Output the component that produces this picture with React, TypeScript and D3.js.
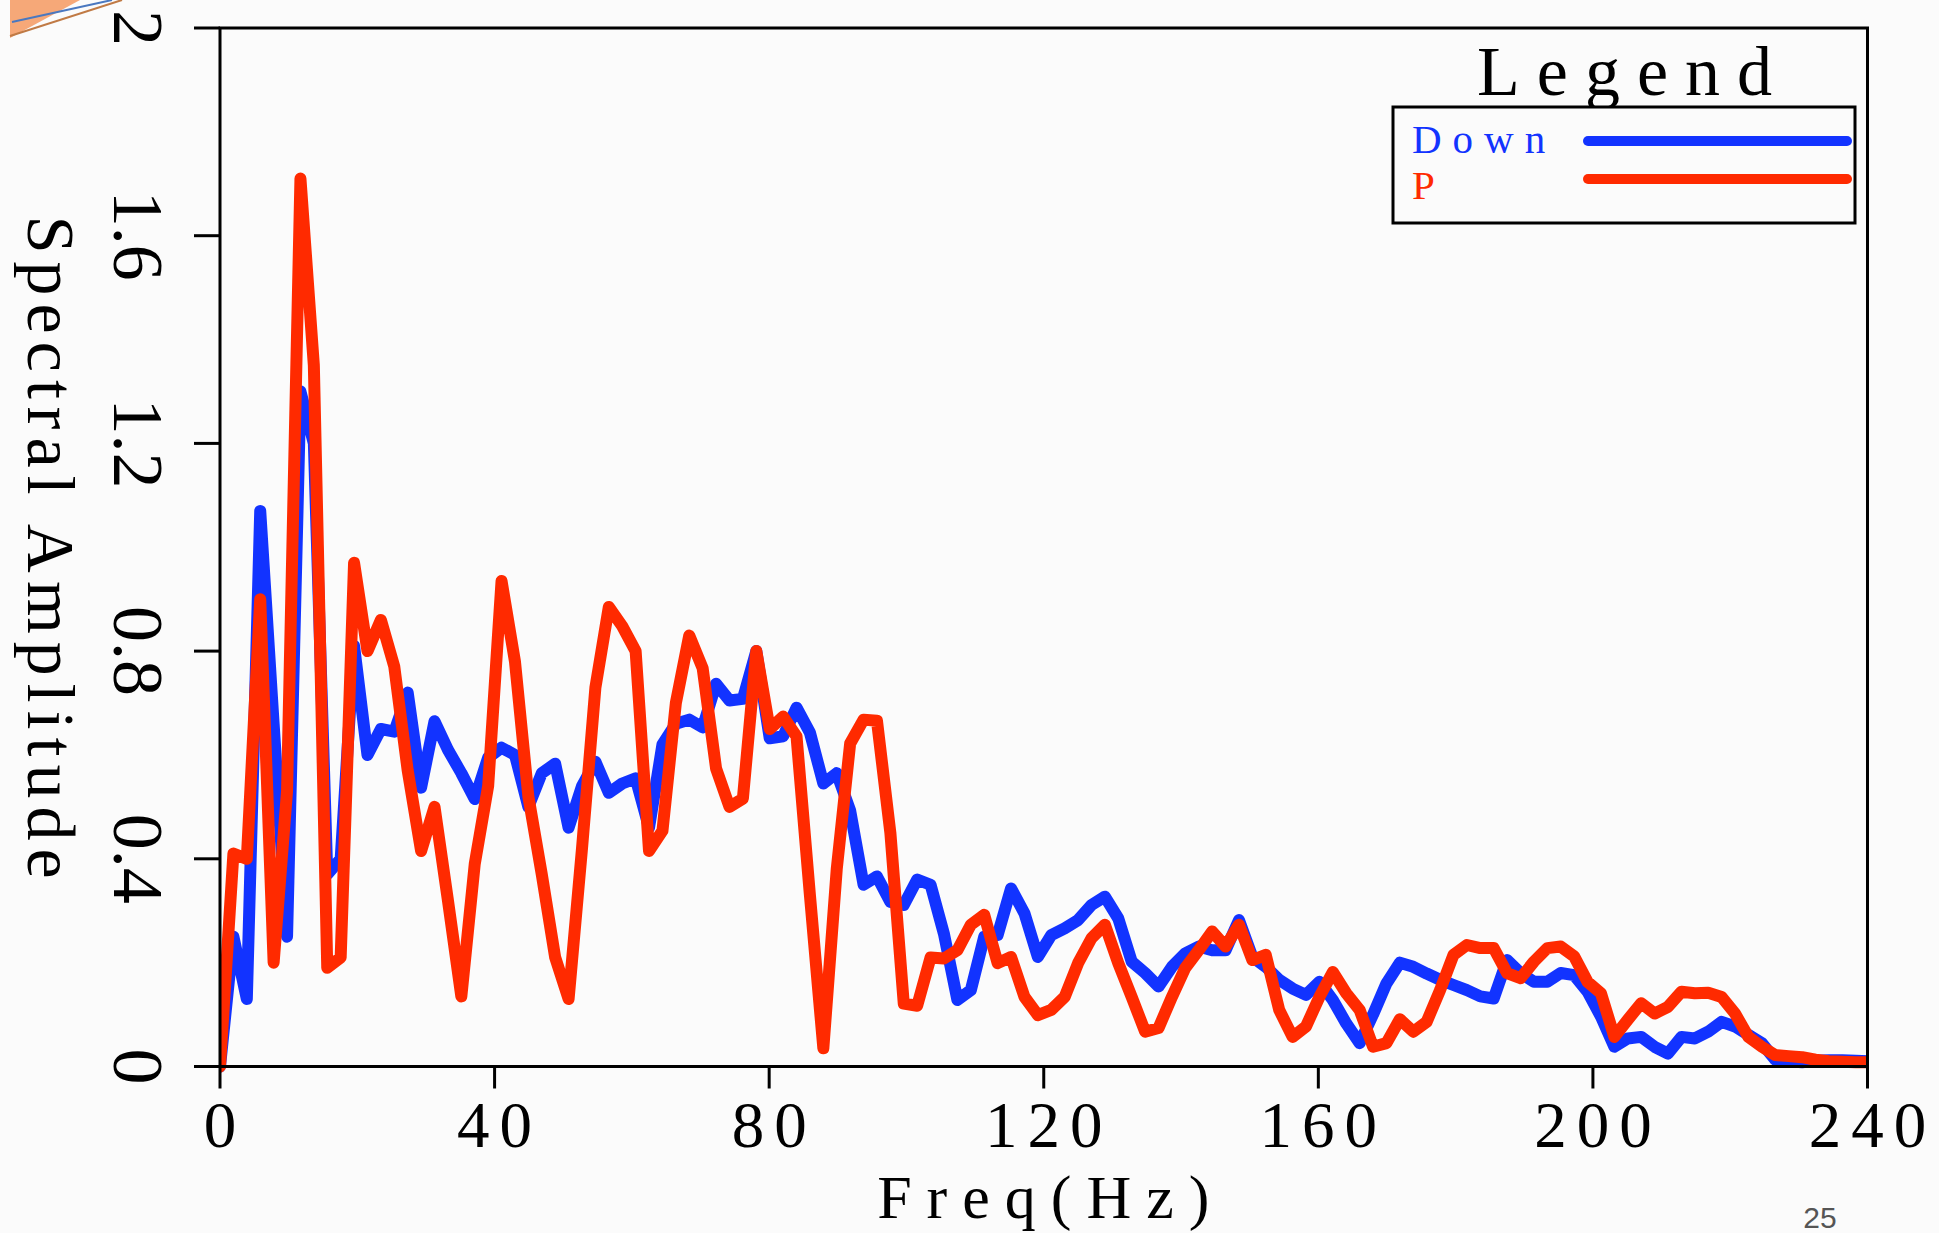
import React, { useRef, useEffect } from "react";
import * as d3 from "d3";

// spectrum bin width (Hz) - one value per FFT bin
const binHz = 1.953125;

// "Down" component spectral amplitude, per bin
const downAmp = [
  0, 0.25, 0.13, 1.07, 0.66, 0.25, 1.3, 1.2, 0.37, 0.4,
  0.81, 0.6, 0.65, 0.645, 0.72, 0.537, 0.665, 0.61, 0.565, 0.515,
  0.595, 0.614, 0.6, 0.5, 0.565, 0.583, 0.46, 0.54, 0.587, 0.527,
  0.545, 0.555, 0.46, 0.62, 0.66, 0.668, 0.653, 0.737, 0.705, 0.708,
  0.8, 0.632, 0.636, 0.691, 0.643, 0.545, 0.565, 0.493, 0.35, 0.366,
  0.317, 0.311, 0.36, 0.35, 0.255, 0.128, 0.147, 0.25, 0.253, 0.343,
  0.295, 0.211, 0.253, 0.266, 0.282, 0.311, 0.327, 0.285, 0.202, 0.18,
  0.154, 0.192, 0.218, 0.231, 0.224, 0.224, 0.282, 0.211, 0.192, 0.167,
  0.15, 0.138, 0.163, 0.128, 0.083, 0.045, 0.1, 0.16, 0.2, 0.192,
  0.179, 0.167, 0.157, 0.147, 0.135, 0.131, 0.205, 0.18, 0.163, 0.163,
  0.18, 0.176, 0.144, 0.096, 0.038, 0.054, 0.057, 0.038, 0.025, 0.057,
  0.054, 0.067, 0.086, 0.077, 0.061, 0.045, 0.013, 0.01, 0.008, 0.011,
  0.012, 0.012, 0.011, 0.01,
];

// "P" component spectral amplitude, per bin
const pAmp = [
  0, 0.41, 0.4, 0.9, 0.2, 0.53, 1.71, 1.35, 0.19, 0.21,
  0.97, 0.8, 0.86, 0.77, 0.57, 0.415, 0.5, 0.32, 0.135, 0.39,
  0.54, 0.935, 0.78, 0.52, 0.37, 0.21, 0.13, 0.42, 0.73, 0.885,
  0.848, 0.8, 0.415, 0.454, 0.7, 0.83, 0.767, 0.574, 0.5, 0.516,
  0.8, 0.65, 0.674, 0.636, 0.33, 0.035, 0.38, 0.622, 0.668, 0.666,
  0.45, 0.121, 0.117, 0.21, 0.208, 0.224, 0.273, 0.292, 0.199, 0.211,
  0.134, 0.099, 0.109, 0.134, 0.199, 0.247, 0.273, 0.199, 0.134, 0.067,
  0.074, 0.134, 0.19, 0.224, 0.26, 0.231, 0.273, 0.205, 0.215, 0.109,
  0.057, 0.077, 0.134, 0.182, 0.141, 0.109, 0.038, 0.045, 0.091, 0.067,
  0.086, 0.147, 0.215, 0.234, 0.228, 0.228, 0.18, 0.17, 0.202, 0.228,
  0.231, 0.212, 0.163, 0.141, 0.057, 0.09, 0.122, 0.102, 0.115, 0.144,
  0.141, 0.142, 0.134, 0.102, 0.057, 0.038, 0.022, 0.02, 0.018, 0.013,
  0.01, 0.009, 0.008, 0.008,
];

const xTicks = [0, 40, 80, 120, 160, 200, 240];
const yTicks = [0, 0.4, 0.8, 1.2, 1.6, 2];
const yTickLabels = ["0", "0.4", "0.8", "1.2", "1.6", "2"];
const seriesNames = ["Down", "P"];
const seriesColors = ["#1233ff", "#ff2a00"];

const FONT = "'Liberation Serif', 'Times New Roman', serif";

function App() {
  const svgRef = useRef(null);

  const width = 1939,
    height = 1233;
  const margin = { top: 28, right: 71.5, bottom: 166.5, left: 220 };
  const plotW = width - margin.left - margin.right;
  const plotH = height - margin.top - margin.bottom;

  function renderChart() {
    const svg = d3.select(svgRef.current);
    svg.selectAll("*").remove();

    svg
      .append("rect")
      .attr("width", width)
      .attr("height", height)
      .attr("fill", "#fbfbfb");

    // bit of the slide graphic poking in at the top-left corner
    svg
      .append("path")
      .attr("d", "M10,0 L10,38 L80,0 Z")
      .attr("fill", "#f6a878");
    svg
      .append("line")
      .attr("x1", 12).attr("y1", 22).attr("x2", 112).attr("y2", 0)
      .attr("stroke", "#4a78c0").attr("stroke-width", 2);
    svg
      .append("line")
      .attr("x1", 10).attr("y1", 36).attr("x2", 122).attr("y2", 0)
      .attr("stroke", "#c07a45").attr("stroke-width", 2);

    const x = d3.scaleLinear().domain([0, 240]).range([0, plotW]);
    const y = d3.scaleLinear().domain([0, 2]).range([plotH, 0]);

    const g = svg
      .append("g")
      .attr("transform", "translate(" + margin.left + "," + margin.top + ")");

    g.append("clipPath")
      .attr("id", "plot-clip")
      .append("rect")
      .attr("x", 0)
      .attr("y", -40)
      .attr("width", plotW)
      .attr("height", plotH + 80);

    const line = d3
      .line()
      .x((d, i) => x(i * binHz))
      .y((d) => y(d));

    [downAmp, pAmp].forEach((series, si) => {
      g.append("path")
        .datum(series)
        .attr("clip-path", "url(#plot-clip)")
        .attr("d", line)
        .attr("fill", "none")
        .attr("stroke", seriesColors[si])
        .attr("stroke-width", 12)
        .attr("stroke-linejoin", "round")
        .attr("stroke-linecap", "round");
    });

    // frame
    g.append("rect")
      .attr("width", plotW)
      .attr("height", plotH)
      .attr("fill", "none")
      .attr("stroke", "black")
      .attr("stroke-width", 3);

    // ticks
    g.selectAll(".ytick")
      .data(yTicks)
      .join("line")
      .attr("x1", -26)
      .attr("x2", 0)
      .attr("y1", (d) => y(d))
      .attr("y2", (d) => y(d))
      .attr("stroke", "black")
      .attr("stroke-width", 3);

    g.selectAll(".xtick")
      .data(xTicks)
      .join("line")
      .attr("x1", (d) => x(d))
      .attr("x2", (d) => x(d))
      .attr("y1", plotH)
      .attr("y2", plotH + 22)
      .attr("stroke", "black")
      .attr("stroke-width", 3);

    // x tick labels
    g.selectAll(".xlabel")
      .data(xTicks)
      .join("text")
      .attr("x", (d) => x(d))
      .attr("y", plotH + 80)
      .attr("dx", 5)
      .attr("text-anchor", "middle")
      .attr("font-family", FONT)
      .attr("font-size", 65)
      .attr("letter-spacing", 10)
      .attr("fill", "black")
      .text((d) => d);

    // y tick labels, turned clockwise
    g.selectAll(".ylabel")
      .data(yTicks)
      .join("text")
      .attr("transform", (d) => "translate(" + (114 - margin.left) + "," + y(d) + ") rotate(90)")
      .attr("text-anchor", "middle")
      .attr("font-family", FONT)
      .attr("font-size", 72)
      .attr("fill", "black")
      .text((d, i) => yTickLabels[i]);

    // axis titles
    svg
      .append("text")
      .attr("x", margin.left + plotW / 2)
      .attr("y", 1218)
      .attr("dx", 7)
      .attr("text-anchor", "middle")
      .attr("font-family", FONT)
      .attr("font-size", 62)
      .attr("letter-spacing", 15)
      .attr("fill", "black")
      .text("Freq(Hz)");

    svg
      .append("text")
      .attr("transform", "translate(28," + (margin.top + plotH / 2) + ") rotate(90)")
      .attr("dx", 4)
      .attr("text-anchor", "middle")
      .attr("font-family", FONT)
      .attr("font-size", 68)
      .attr("letter-spacing", 8)
      .attr("fill", "black")
      .text("Spectral Amplitude");

    // legend
    svg
      .append("text")
      .attr("x", 1625)
      .attr("y", 95)
      .attr("dx", 8)
      .attr("text-anchor", "middle")
      .attr("font-family", FONT)
      .attr("font-size", 70)
      .attr("letter-spacing", 17)
      .attr("fill", "black")
      .text("Legend");

    svg
      .append("rect")
      .attr("x", 1393)
      .attr("y", 107)
      .attr("width", 462)
      .attr("height", 116)
      .attr("fill", "#fbfbfb")
      .attr("stroke", "black")
      .attr("stroke-width", 3);

    const legendRows = [153, 199];
    seriesNames.forEach((name, i) => {
      svg
        .append("text")
        .attr("x", 1412)
        .attr("y", legendRows[i])
        .attr("font-family", FONT)
        .attr("font-size", 41)
        .attr("letter-spacing", 11)
        .attr("fill", seriesColors[i])
        .text(name);
      svg
        .append("line")
        .attr("x1", 1588)
        .attr("x2", 1847)
        .attr("y1", i === 0 ? 141 : 179)
        .attr("y2", i === 0 ? 141 : 179)
        .attr("stroke", seriesColors[i])
        .attr("stroke-width", 10)
        .attr("stroke-linecap", "round");
    });

    // slide number
    svg
      .append("text")
      .attr("x", 1820)
      .attr("y", 1228)
      .attr("text-anchor", "middle")
      .attr("font-family", "'Liberation Sans', Arial, sans-serif")
      .attr("font-size", 30)
      .attr("fill", "#555")
      .text("25");
  }

  useEffect(() => {
    renderChart();
  }, []);

  return (
    <svg
      ref={svgRef}
      width={width}
      height={height}
      style={{ position: "absolute", left: 0, top: 0, display: "block" }}
    />
  );
}

export default App;
